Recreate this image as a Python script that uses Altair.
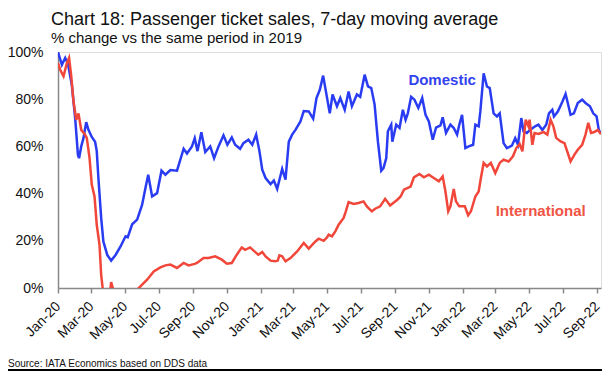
import altair as alt
import pandas as pd

# Days since 2020-01-01 and values (% of same period in 2019)
dom_days = [0,7,13,18,25,31,36,38,42,46,
            51,55,61,67,70,73,78,82,89,96,
            104,113,122,126,134,143,152,158,163,170,
            179,187,194,203,215,227,233,242,247,252,
            259,266,275,282,290,299,306,314,320,329,
            335,344,351,358,364,369,375,384,390,396,
            405,411,417,423,429,438,444,453,461,467,
            473,479,485,491,496,504,510,518,525,531,
            540,546,554,560,566,572,578,584,588,593,
            596,602,604,611,617,623,628,632,638,644,
            651,658,664,670,677,683,691,695,701,709,
            715,721,725,730,736,742,750,754,760,763,
            769,775,780,787,793,798,805,811,820,826,
            831,837,841,847,853,862,868,875,882,887,
            893,896,903,911,917,921,926,932,939,947,
            953,961,967,973,977,981]
dom_vals = [100,94.6,97.5,95,86,72,56.5,55,60,63.5,
            70.3,67,64,62,58,46.6,29.7,19.7,14,11.6,
            14,17.6,21.9,21.5,27,29,35.3,42.4,48,38.8,
            40.2,49.7,48,50,49.7,59,57,60,63.5,58,
            66,57.6,60,55,60,64.7,60.7,63.8,60.7,59,
            61.4,62.8,60.7,65,57.9,50.1,46.6,44,45.5,42,
            50.5,45.9,62,65,67,70.6,75,74.8,71.7,80.5,
            84,90,82,74,82,77,80.5,75.5,83.3,77,
            82,81,90.4,85.4,84.7,77.7,62,49.7,50.8,55,
            66.4,69.2,62,69.2,67.8,75.5,71.3,74,81,79.8,
            76.3,80.5,73.4,70.6,62.8,68,68.9,72.3,65.7,69.2,
            67.8,65,69.2,73.4,59.3,60,60.7,69.2,68.5,74.8,
            91,85.4,84.7,74,72.7,74,61.4,59.3,60.3,63.5,
            60.7,72,66.4,65.7,67,68.5,69.2,67,69.2,74,
            75.5,72.7,74.8,78.8,82.2,78.4,73.4,74,78.4,79.8,
            78.4,77,74,72.7,67,65.3]

int_days = [0,4,10,16,20,24,28,33,37,42,
            48,52,57,61,66,70,75,78,81,84,
            91,95,96,99,102,122,134,140,152,161,
            173,185,194,203,215,227,236,247,251,263,
            272,284,296,305,314,323,332,338,347,356,
            362,369,375,384,393,397,400,405,411,420,
            432,444,453,465,471,480,486,489,495,501,
            507,516,520,525,534,543,552,558,567,573,
            582,591,600,613,619,625,637,643,653,661,
            670,679,688,695,700,705,709,715,719,725,
            735,741,746,754,760,764,769,775,782,790,
            798,805,814,822,828,834,839,845,850,852,
            857,861,868,877,884,890,895,900,908,915,
            920,926,933,939,947,953,958,963,969,975,
            981]
int_vals = [95.3,92.5,89.7,95.3,97.5,89.7,79,71.3,74,67,
            65.3,63.6,55,43.8,38.8,26.8,18.3,5.6,-0.7,-10,
            -8,0,2.5,0,-10,-15,-5,-1.4,1.4,3.5,
            7,8.7,9.6,9.9,8.5,10.6,9.6,10.2,10.6,12.7,
            12.7,13.4,12,10.3,10.6,14.1,17.2,16.2,17.2,15.3,
            14.1,15.3,13.4,11.6,11.3,11.6,13.8,13.4,11.3,12.7,
            15.5,19.1,16.7,19.7,20.9,20,21.4,22.6,21.9,24,
            26.8,29.7,32.5,36.4,35.6,36,36.7,34.6,32.5,33.6,
            34.6,37.8,35,37.4,38.8,41.7,43,46.9,48.3,46.9,
            48,46.6,45.2,47.3,40.9,32.5,34.6,42,36.7,34.6,
            34.6,30.8,32.5,38.8,40.9,46.6,53,51.5,53,48.7,
            53,54.4,53.6,55.8,59.3,61,57.9,71.3,68.5,71.3,
            60.7,65.7,65.3,66.1,65,71.3,68.5,63.6,62.1,61.4,
            57.9,53.6,56.5,58.6,60.7,65,70,65.7,66.1,67,
            65.3]

series_names = ["Domestic", "International"]
series_colors = ["#2a3cf2", "#f0473a"]
label_colors = ["#3343ee", "#f05444"]
label_days = [694, 872]
label_vals = [88, 32.8]

tick_months = [(2020, 1), (2020, 3), (2020, 5), (2020, 7), (2020, 9), (2020, 11),
               (2021, 1), (2021, 3), (2021, 5), (2021, 7), (2021, 9), (2021, 11),
               (2022, 1), (2022, 3), (2022, 5), (2022, 7), (2022, 9)]
y_ticks = [0, 20, 40, 60, 80, 100]

title_text = "Chart 18: Passenger ticket sales, 7-day moving average"
subtitle_text = "% change vs the same period in 2019"
source_text = "Source: IATA Economics based on DDS data"

FONT = "Liberation Sans"
base = pd.Timestamp("2020-01-01")


def to_dates(days):
    return (base + pd.to_timedelta(days, unit="D")).strftime("%Y-%m-%dT00:00:00")


df = pd.concat([
    pd.DataFrame({"date": to_dates(dom_days), "value": dom_vals, "series": series_names[0]}),
    pd.DataFrame({"date": to_dates(int_days), "value": int_vals, "series": series_names[1]}),
], ignore_index=True)

lab = pd.DataFrame({"date": to_dates(label_days), "value": label_vals,
                    "series": series_names, "color": label_colors})
src = pd.DataFrame({"t": [source_text]})

x_scale = alt.Scale(domain=[alt.DateTime(year=2020, month=1, date=1),
                            alt.DateTime(year=2022, month=9, date=8)])
y_scale = alt.Scale(domain=[0, 100], nice=False)

x_axis = alt.Axis(values=[alt.DateTime(year=y, month=m, date=1) for y, m in tick_months],
                  format="%b-%y", labelAngle=-45, labelAlign="right", labelBaseline="middle",
                  labelPadding=11, labelOverlap=False, labelFlush=False, labelSeparation=0,
                  title=None, grid=False, tickSize=5, tickColor="#888888",
                  tickWidth=1.5, domainColor="#888888", domainWidth=1.5, labelFontSize=14,
                  labelColor="#111111", labelFont=FONT)
y_axis = alt.Axis(values=y_ticks, labelExpr="datum.value + '%'", title=None, grid=False,
                  ticks=False, tickSize=0, labelPadding=15, domainColor="#888888",
                  domainWidth=1.5, labelFontSize=14, labelColor="#111111", labelFont=FONT)

X = alt.X("date:T", scale=x_scale, axis=x_axis)
Y = alt.Y("value:Q", scale=y_scale, axis=y_axis)

lines = alt.Chart(df).mark_line(clip=True, strokeWidth=2.5).encode(
    x=X, y=Y,
    color=alt.Color("series:N", scale=alt.Scale(domain=series_names, range=series_colors), legend=None),
    detail="series:N",
)

labels = alt.Chart(lab).mark_text(font=FONT, fontSize=15, fontWeight="bold").encode(
    x=X, y=Y, text="series:N",
    color=alt.Color("color:N", scale=None),
)

source = alt.Chart(src).mark_text(font=FONT, fontSize=10, align="left", baseline="alphabetic",
                                  color="#111111").encode(
    text="t:N", x=alt.value(-50), y=alt.value(314.5))

bottom_rule = alt.Chart(src).mark_rule(color="#000000", strokeWidth=2).encode(
    x=alt.value(-50), x2=alt.value(545), y=alt.value(318))

chart = alt.layer(lines, labels, source, bottom_rule).properties(
    width=543, height=236,
    autosize=alt.AutoSizeParams(type="none"),
    padding={"left": 50, "top": 44, "right": 1, "bottom": 84},
    title=alt.Title(title_text, subtitle=subtitle_text, anchor="start", frame="group",
                    dx=-7, dy=8, offset=7, subtitlePadding=2, font=FONT, fontSize=18,
                    fontWeight="normal", color="#111111", subtitleFont=FONT,
                    subtitleFontSize=15, subtitleColor="#111111"),
).configure_view(stroke=None).configure(font=FONT).configure_axisX(labelOverlap=False)

chart.save("out.html", embed_options={"renderer": "svg", "actions": False})
